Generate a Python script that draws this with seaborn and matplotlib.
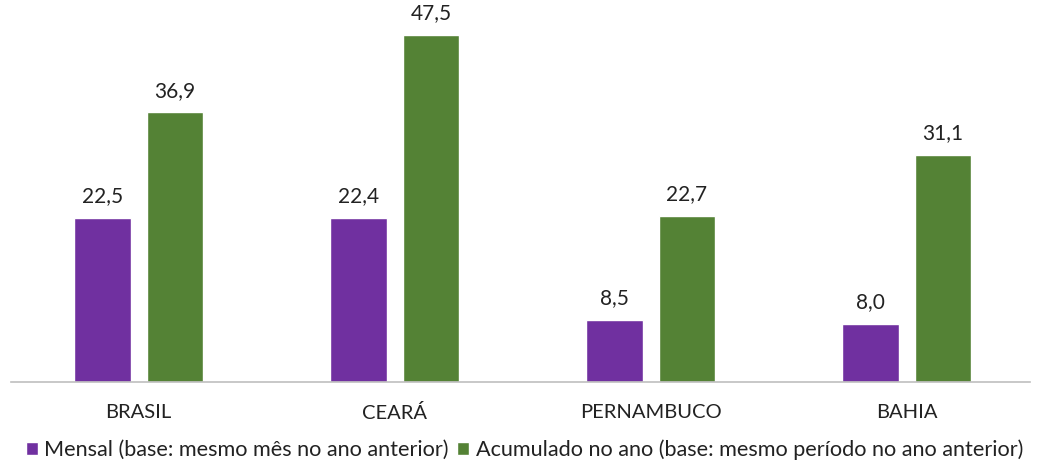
import pandas as pd
import matplotlib
matplotlib.use("Agg")
import matplotlib.pyplot as plt
import seaborn as sns
from matplotlib.patches import Patch

estados = ["BRASIL", "CEARÁ", "PERNAMBUCO", "BAHIA"]
mensal = [22.5, 22.4, 8.5, 8.0]
acumulado = [36.9, 47.5, 22.7, 31.1]
series = ["Mensal (base: mesmo mês no ano anterior)",
          "Acumulado no ano (base: mesmo período no ano anterior)"]
cores = ["#7030A0", "#548235"]

sns.set_style("white")
plt.rcParams["font.family"] = ["Lato", "DejaVu Sans"]

df = pd.DataFrame({
    "estado": estados * 2,
    "valor": mensal + acumulado,
    "serie": [series[0]] * 4 + [series[1]] * 4,
})

fig = plt.figure(figsize=(10.51, 4.65), dpi=100)
ax = fig.add_axes([11 / 1051, 1 - 382 / 465, 1019 / 1051, 382 / 465])

sns.barplot(data=df, x="estado", y="valor", hue="serie", palette=cores,
            width=0.568, gap=0.22, ax=ax, legend=False, saturation=1)

for cont in ax.containers:
    ax.bar_label(cont, labels=[f"{v:.1f}".replace(".", ",") for v in cont.datavalues],
                 padding=8.5, fontsize=15, color="#222222")

ax.set_ylim(0, 52.3)
ax.set_xlim(-0.498, 3.482)
ax.set_yticks([])
ax.set_xlabel("")
ax.set_ylabel("")
for s in ["top", "right", "left"]:
    ax.spines[s].set_visible(False)
ax.spines["bottom"].set_color("#bfbfbf")
ax.spines["bottom"].set_linewidth(1.2)
ax.tick_params(axis="x", length=0, pad=16, labelsize=14.5, labelcolor="#222222")

handles = [Patch(facecolor=c, label=l) for c, l in zip(cores, series)]
fig.legend(handles=handles, loc="center left", bbox_to_anchor=(0.006, 1 - 450 / 465),
           ncol=2, frameon=False, fontsize=15.6, handlelength=0.55, handleheight=0.55,
           handletextpad=0.3, columnspacing=0.4, labelcolor="#222222")

fig.savefig("out.png", dpi=100)
